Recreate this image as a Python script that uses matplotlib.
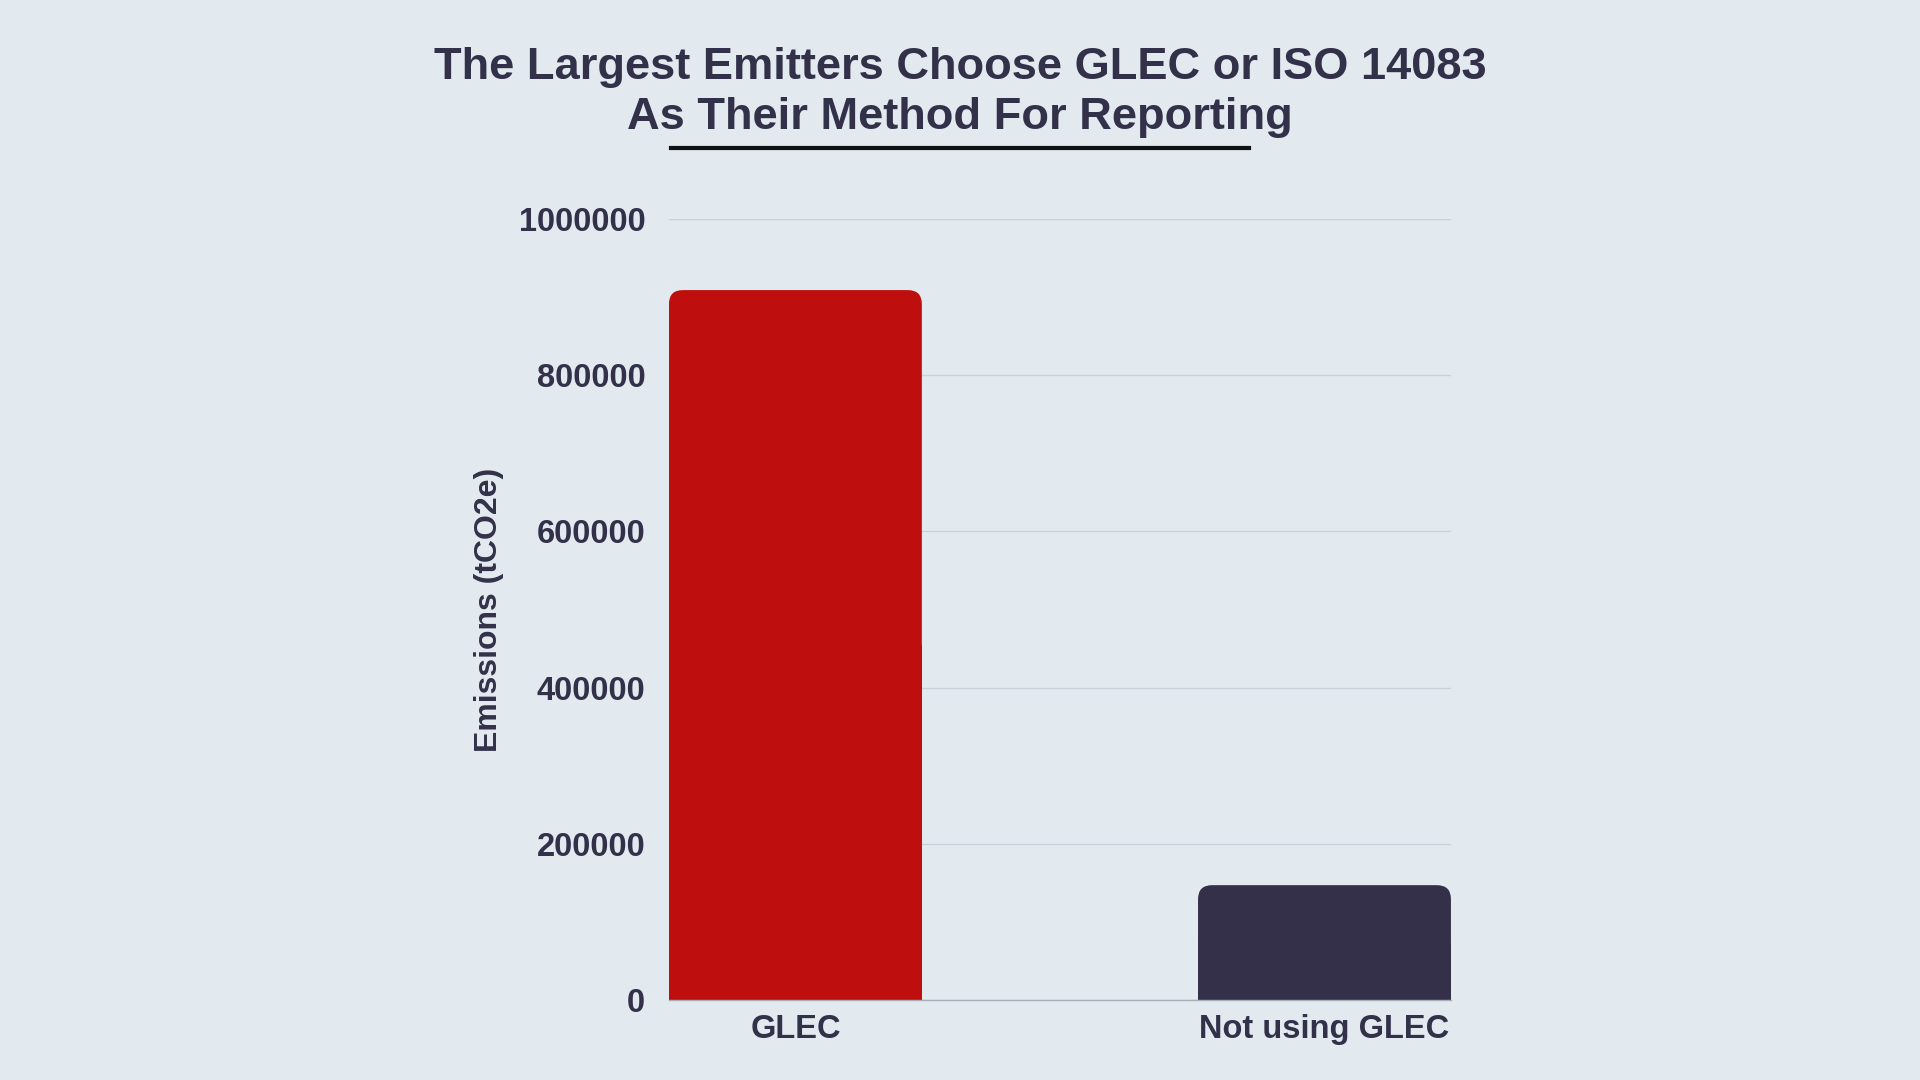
import matplotlib
matplotlib.use("Agg")
import matplotlib.pyplot as plt
from matplotlib.patches import FancyBboxPatch, Rectangle
from matplotlib.lines import Line2D

# data
categories = ["GLEC", "Not using GLEC"]
emissions = [909000, 147000]
bar_colors = ["#BE0E0E", "#35304A"]
yticks = [0, 200000, 400000, 600000, 800000, 1000000]

BG = "#E3EAEF"
TEXT = "#33304A"
GRID = "#CBD1D8"

plt.rcParams["font.family"] = ["Liberation Sans", "DejaVu Sans"]
plt.rcParams["font.weight"] = "bold"

fig = plt.figure(figsize=(19.2, 10.8), dpi=100, facecolor=BG)
ax = fig.add_axes([0.3484, 0.0741, 0.4073, 0.7231], facecolor=BG)

width = 0.478
xpos = list(range(len(categories)))
bars = ax.bar(xpos, emissions, width=width, color=bar_colors, zorder=3)

ax.set_xlim(-width / 2, xpos[-1] + width / 2)
ax.set_ylim(0, 1000000)

# rounded top corners (~14 px radius)
fig.canvas.draw()
bbox = ax.get_window_extent()
px_x = bbox.width / (ax.get_xlim()[1] - ax.get_xlim()[0])
px_y = bbox.height / (ax.get_ylim()[1] - ax.get_ylim()[0])
r_px = 14
rx, ry = r_px / px_x, r_px / px_y
for bar, c in zip(bars, bar_colors):
    x, w, h = bar.get_x(), bar.get_width(), bar.get_height()
    bar.set_visible(False)
    ax.add_patch(FancyBboxPatch((x, 0), w, h,
                                boxstyle=f"round,pad=0,rounding_size={rx}",
                                mutation_aspect=ry / rx, fc=c, ec="none", zorder=3))
    ax.add_patch(Rectangle((x, 0), w, h / 2, fc=c, ec="none", zorder=3))

ax.set_yticks(yticks)
ax.set_yticklabels([str(v) for v in yticks])
ax.set_xticks(xpos)
ax.set_xticklabels(categories)
ax.tick_params(axis="y", length=0, pad=17, labelsize=23.5, labelcolor=TEXT)
ax.tick_params(axis="x", length=0, pad=10, labelsize=23.5, labelcolor=TEXT)

ax.grid(axis="y", color=GRID, linewidth=1, zorder=0)
for s in ["top", "right", "left"]:
    ax.spines[s].set_visible(False)
ax.spines["bottom"].set_color("#A9AEB6")
ax.spines["bottom"].set_linewidth(1)
ax.spines["bottom"].set_zorder(4)

ax.set_ylabel("Emissions (tCO2e)", fontsize=23, color=TEXT, fontweight="bold")
ax.yaxis.set_label_coords(-0.211, 0.5)

# title, two lines, with a short underline
fig.text(0.5, 1 - 79 / 1080, "The Largest Emitters Choose GLEC or ISO 14083",
         ha="center", va="baseline", fontsize=32.6, color=TEXT, fontweight="bold")
fig.text(0.5, 1 - 129 / 1080, "As Their Method For Reporting",
         ha="center", va="baseline", fontsize=32.6, color=TEXT, fontweight="bold")
fig.add_artist(Line2D([671 / 1920, 1249 / 1920], [1 - 148 / 1080, 1 - 148 / 1080],
                      color="#111111", linewidth=3, transform=fig.transFigure))

fig.savefig("out.png", dpi=100, facecolor=BG)
